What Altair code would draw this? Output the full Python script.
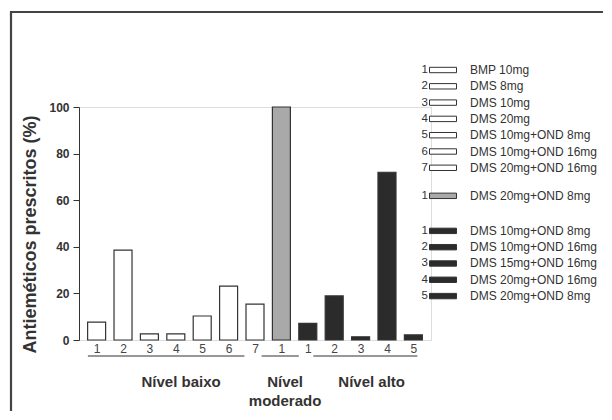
import json
import altair as alt
import pandas as pd

# ---------------- data ----------------
bar_labels = ["1", "2", "3", "4", "5", "6", "7", "1", "1", "2", "3", "4", "5"]
bar_levels = ["baixo"] * 7 + ["moderado"] + ["alto"] * 5
bar_values = [7.7, 38.6, 2.6, 2.6, 10.3, 23.1, 15.4, 100.0, 7.1, 18.9, 1.4, 72.0, 2.2]

group_titles = ["Nível baixo", "Nível\nmoderado", "Nível alto"]
group_first = [-0.33, 6.25, 8.21]   # bracket start (bar index units)
group_last = [5.6, 7.66, 12.15]     # bracket end (bar index units)
group_center = [3.2, 7.14, 10.42]

legend_numbers = ["1", "2", "3", "4", "5", "6", "7", "1", "1", "2", "3", "4", "5"]
legend_levels = ["baixo"] * 7 + ["moderado"] + ["alto"] * 5
legend_texts = [
    "BMP 10mg", "DMS 8mg", "DMS 10mg", "DMS 20mg", "DMS 10mg+OND 8mg",
    "DMS 10mg+OND 16mg", "DMS 20mg+OND 16mg",
    "DMS 20mg+OND 8mg",
    "DMS 10mg+OND 8mg", "DMS 10mg+OND 16mg", "DMS 15mg+OND 16mg",
    "DMS 20mg+OND 16mg", "DMS 20mg+OND 8mg",
]

y_ticks = [0, 20, 40, 60, 80, 100]

level_domain = ["baixo", "moderado", "alto"]
level_fill = ["#ffffff", "#a9a9a9", "#2b2b2b"]

# ---------------- tables ----------------
bars = pd.DataFrame({
    "idx": list(range(len(bar_values))),
    "label": bar_labels,
    "level": bar_levels,
    "value": bar_values,
})
groups = pd.DataFrame({
    "title": group_titles,
    "start": group_first,
    "end": group_last,
    "center": group_center,
})

# legend row layout (gaps between groups)
gaps = {"moderado": 0.72, "alto": 1.15}
slots, s, prev = [], 0.0, None
for lvl in legend_levels:
    if prev is not None and lvl != prev:
        s += gaps[lvl]
    slots.append(s)
    s += 1
    prev = lvl
legend = pd.DataFrame({
    "num": legend_numbers,
    "level": legend_levels,
    "text": legend_texts,
    "slot": slots,
})

W, H = 352, 233
FONT = "Liberation Sans"

xscale = alt.Scale(domain=[-0.478, 12.478], nice=False, zero=False)
xaxis = alt.Axis(values=list(range(len(bar_labels))),
                 labelExpr=f"{json.dumps(bar_labels)}[datum.value]",
                 ticks=False, domain=False, grid=False,
                 labelFlush=False, labelOverlap=False, labelBound=False,
                 labelPadding=3, labelFontSize=12, labelColor="#444444",
                 labelFont=FONT)
fill_scale = alt.Scale(domain=level_domain, range=level_fill)
leg_y = alt.Y("slot:Q", axis=None,
              scale=alt.Scale(domain=[2.27, 16.564], reverse=True, nice=False, zero=False))

bar_layer = alt.Chart(bars).mark_bar(
    size=18, stroke="#333333", strokeWidth=1.2, orient="vertical"
).encode(
    x=alt.X("idx:Q", scale=xscale, title=None, axis=xaxis),
    y=alt.Y("value:Q", scale=alt.Scale(domain=[0, 100], nice=False),
            title="Antieméticos prescritos (%)",
            axis=alt.Axis(values=y_ticks, grid=False, tickSize=6, labelPadding=4,
                          labelFontSize=12, labelFontWeight="bold", labelColor="#333333",
                          labelFont=FONT, domainColor="#333333", tickColor="#333333",
                          titleFontSize=18, titleFontWeight="bold", titleColor="#333333",
                          titleFont=FONT, titleAngle=270, titleX=-49, titleY=127,
                          titleAlign="center", titleBaseline="middle")),
    fill=alt.Fill("level:N", scale=fill_scale, legend=None),
)

bracket_layer = alt.Chart(groups).mark_rule(color="#333333", strokeWidth=1.2).encode(
    x=alt.X("start:Q", scale=xscale, title=None, axis=xaxis),
    x2="end:Q",
    y=alt.value(249),
)

group_text = alt.Chart(groups).mark_text(
    font=FONT, fontSize=15, fontWeight="bold", color="#333333",
    align="center", baseline="alphabetic", lineBreak="\n", lineHeight=19,
).encode(
    x=alt.X("center:Q", scale=xscale, title=None, axis=xaxis),
    y=alt.value(280),
    text="title:N",
)

leg_swatch = alt.Chart(legend).mark_point(
    shape="M-1,-0.2H1V0.2H-1Z", size=729, filled=True,
    stroke="#333333", strokeWidth=1, opacity=1,
).encode(
    x=alt.value(364),
    y=leg_y,
    fill=alt.Fill("level:N", scale=fill_scale, legend=None),
)

leg_num = alt.Chart(legend).mark_text(
    font=FONT, fontSize=11.5, color="#333333", align="right", baseline="middle",
).encode(x=alt.value(349), y=leg_y, text="num:N")

leg_text = alt.Chart(legend).mark_text(
    font=FONT, fontSize=12, color="#333333", align="left", baseline="middle",
).encode(x=alt.value(391), y=leg_y, text="text:N")

one = alt.Data(values=[{}])
frame_top = alt.Chart(one).mark_rule(color="#444444", strokeWidth=2.2).encode(
    x=alt.value(-69), x2=alt.value(540), y=alt.value(-95))
frame_left = alt.Chart(one).mark_rule(color="#444444", strokeWidth=2.2).encode(
    x=alt.value(-68), y=alt.value(-96), y2=alt.value(320))

chart = alt.layer(
    frame_top, frame_left, bar_layer, bracket_layer, group_text,
    leg_swatch, leg_num, leg_text,
).resolve_scale(
    y="independent", fill="shared"
).properties(
    width=W, height=H,
    autosize=alt.AutoSizeParams(type="none"),
    padding={"left": 71, "top": 99, "right": 172, "bottom": 71},
    background="white",
).configure_view(stroke=None).configure(font=FONT)

chart.save("out.html", embed_options={"renderer": "svg", "actions": False})
